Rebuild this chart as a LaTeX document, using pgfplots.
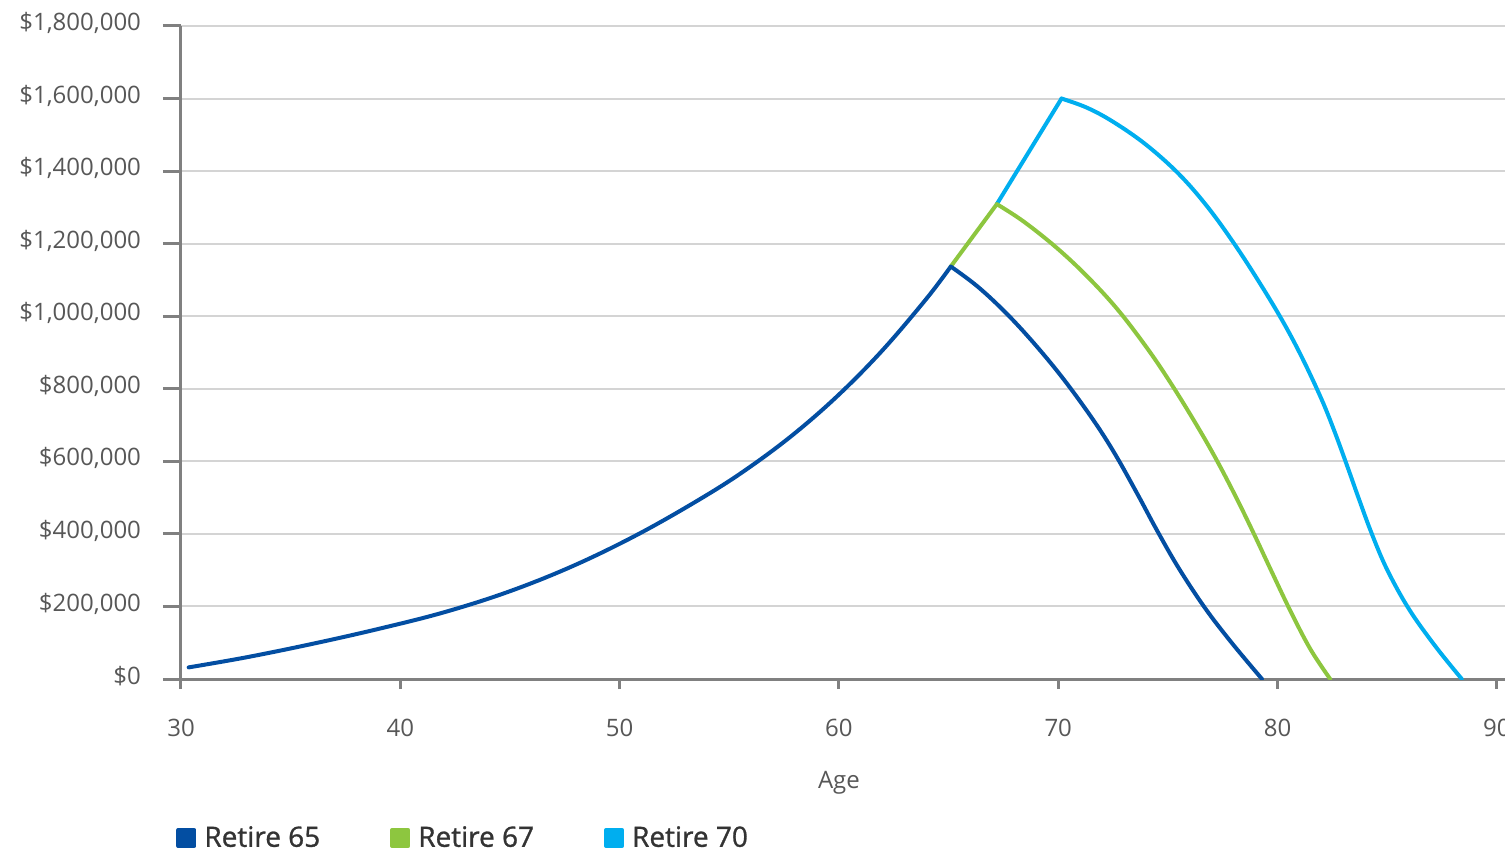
\documentclass[border=0pt]{standalone}
\usepackage{fontspec}
\setmainfont{Open Sans}
\newfontfamily\legendfont[FakeBold=1]{Open Sans}
\usepackage{pgfplots}
\pgfplotsset{compat=1.18}
\definecolor{c65}{HTML}{034EA2}
\definecolor{c67}{HTML}{8DC63F}
\definecolor{c70}{HTML}{00AEEF}
\definecolor{axisgray}{HTML}{808080}
\definecolor{gridgray}{HTML}{D4D4D4}
\definecolor{labelgray}{HTML}{575757}
\definecolor{legendtext}{HTML}{333333}
\begin{document}
\begin{tikzpicture}
\begin{axis}[
  scale only axis, width=668.9pt, height=326.5pt,
  xmin=30, xmax=91, ymin=0, ymax=1800,
  axis x line*=bottom, axis y line*=left,
  axis line style={draw=axisgray, line width=1.5pt},
  xtick={30,40,50,60,70,80,90},
  xticklabels={30,40,50,60,70,80,90},
  minor xtick={30,40,50,60,70,80,90},
  ytick={0,200,400,600,800,1000,1200,1400,1600,1800},
  yticklabels={{\$0},{\$200,000},{\$400,000},{\$600,000},{\$800,000},{\$1,000,000},{\$1,200,000},{\$1,400,000},{\$1,600,000},{\$1,800,000}},
  /pgf/number format/assume math mode=true,
  ymajorgrids, major grid style={draw=gridgray, line width=1pt},
  tick align=outside, major tick length=9pt, minor tick length=5pt,
  ytick style={draw=axisgray, line width=1.5pt},
  major x tick style={draw=none},
  minor x tick style={draw=axisgray, line width=1.5pt},
  ticklabel style={font=\fontsize{12}{14}\selectfont, text=labelgray},
  yticklabel style={xshift=-7.5pt, yshift=1.5pt},
  xticklabel style={yshift=-7.5pt},
  xlabel={Age},
  xlabel style={font=\fontsize{12}{14}\selectfont, text=labelgray, at={(axis description cs:0.4918,0)}, anchor=center, yshift=-52pt},
  legend columns=3,
  legend style={draw=none, fill=none, at={(0,0)}, anchor=west, xshift=-2.5pt, yshift=-79.5pt,
    font=\fontsize{14}{16}\selectfont\legendfont, text=legendtext, inner sep=0pt,
    /tikz/every even column/.append style={column sep=33pt}, cells={anchor=west}},
  legend image code/.code={\fill[#1] (0pt,-4pt) rectangle (8pt,4pt); \path[draw=none, fill=none] (11pt,0pt);},
  every axis plot/.append style={line width=2pt, line cap=round, line join=round},
]
% legend-bearing segments
\addplot[color=c65, smooth, tension=0.6] coordinates {
 (30.35,32) (33,60) (36,97) (39,138) (42,184) (45,242) (48,315) (51,404)
 (54,508) (56,587) (58,678) (60,784) (62,907) (64,1049) (65.1,1137)
};
\addlegendentry{Retire 65}
\addplot[color=c67] coordinates {(65.1,1137) (67.2,1309)};
\addlegendentry{Retire 67}
\addplot[color=c70] coordinates {(67.2,1309) (70.15,1600)};
\addlegendentry{Retire 70}
% falling segments
\addplot[color=c70, smooth, tension=0.6, forget plot] coordinates {
 (70.15,1600) (71.3,1575) (72.5,1536) (74,1473) (75.5,1392) (76.8,1302)
 (78,1202) (79.1,1100) (80.2,990) (81.1,888) (82,772) (82.6,682) (83.2,583)
 (83.7,498) (84.3,400) (85,301) (86,192) (87.2,90) (88.4,0)
};
\addplot[color=c67, smooth, tension=0.6, forget plot] coordinates {
 (67.2,1309) (68.4,1262) (69.9,1190) (71.3,1111) (72.7,1019) (74.1,908)
 (75.2,809) (76.3,701) (77.2,606) (78.1,502) (78.9,403) (79.7,300)
 (80.6,186) (81.5,82) (82.4,0)
};
\addplot[color=c65, smooth, tension=0.6, forget plot] coordinates {
 (65.1,1137) (66.34,1081) (67.7,1004) (69.03,916) (70.3,822) (71.62,712)
 (72.6,619) (73.61,510) (74.5,410) (75.5,305) (76.7,195) (77.92,99) (79.29,0)
};
\end{axis}
\pgfresetboundingbox
\useasboundingbox (-90.5pt,-86pt) rectangle (662pt,339.5pt);
\end{tikzpicture}
\end{document}
